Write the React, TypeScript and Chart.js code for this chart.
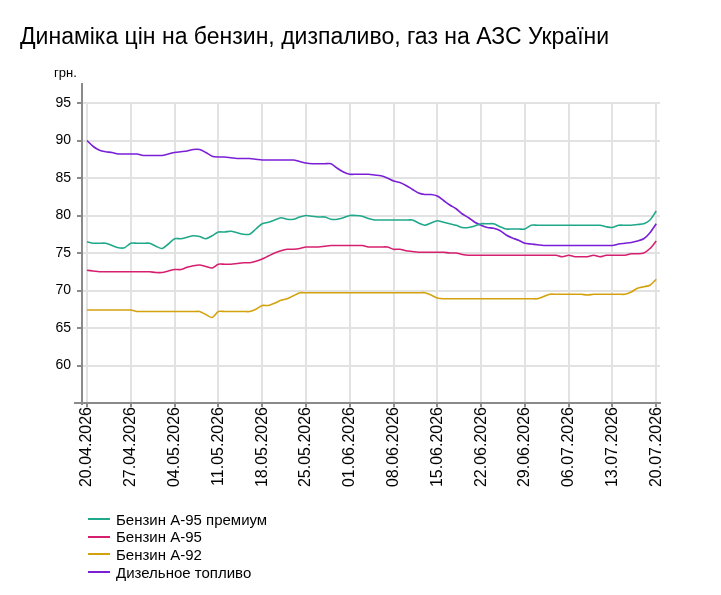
import React, { useEffect, useRef } from "react";
import { Chart, registerables } from "chart.js";

Chart.register(...registerables);

// Daily prices, 20.04.2026 .. 20.07.2026 (92 days), UAH per litre
const premium95 = [
  76.5, 76.3, 76.3, 76.3, 76.0, 75.7, 75.7, 76.3, 76.3, 76.3,
  76.3, 75.9, 75.6, 76.2, 76.9, 76.9, 77.1, 77.3, 77.2, 76.9,
  77.3, 77.8, 77.8, 77.9, 77.7, 77.5, 77.5, 78.2, 78.9, 79.1,
  79.4, 79.7, 79.5, 79.5, 79.8, 80.0, 79.9, 79.8, 79.8, 79.5,
  79.5, 79.7, 80.0, 80.0, 79.9, 79.6, 79.4, 79.4, 79.4, 79.4,
  79.4, 79.4, 79.4, 79.0, 78.7, 79.0, 79.3, 79.1, 78.9, 78.7,
  78.4, 78.4, 78.6, 78.9, 78.9, 78.9, 78.5, 78.2, 78.2, 78.2,
  78.2, 78.7, 78.7, 78.7, 78.7, 78.7, 78.7, 78.7, 78.7, 78.7,
  78.7, 78.7, 78.7, 78.5, 78.4, 78.7, 78.7, 78.7, 78.8, 78.9,
  79.4, 80.6,
];

const regular95 = [
  72.7, 72.6, 72.5, 72.5, 72.5, 72.5, 72.5, 72.5, 72.5, 72.5,
  72.5, 72.4, 72.4, 72.6, 72.8, 72.8, 73.1, 73.3, 73.4, 73.2,
  73.0, 73.5, 73.5, 73.5, 73.6, 73.7, 73.7, 73.9, 74.2, 74.6,
  75.0, 75.3, 75.5, 75.5, 75.6, 75.8, 75.8, 75.8, 75.9, 76.0,
  76.0, 76.0, 76.0, 76.0, 76.0, 75.8, 75.8, 75.8, 75.8, 75.5,
  75.5, 75.3, 75.2, 75.1, 75.1, 75.1, 75.1, 75.1, 75.0, 75.0,
  74.8, 74.7, 74.7, 74.7, 74.7, 74.7, 74.7, 74.7, 74.7, 74.7,
  74.7, 74.7, 74.7, 74.7, 74.7, 74.7, 74.5, 74.7, 74.5, 74.5,
  74.5, 74.7, 74.5, 74.7, 74.7, 74.7, 74.7, 74.9, 74.9, 75.0,
  75.6, 76.6,
];

const regular92 = [
  67.4, 67.4, 67.4, 67.4, 67.4, 67.4, 67.4, 67.4, 67.2, 67.2,
  67.2, 67.2, 67.2, 67.2, 67.2, 67.2, 67.2, 67.2, 67.2, 66.8,
  66.4, 67.2, 67.2, 67.2, 67.2, 67.2, 67.2, 67.5, 68.0, 68.0,
  68.3, 68.7, 68.9, 69.3, 69.7, 69.7, 69.7, 69.7, 69.7, 69.7,
  69.7, 69.7, 69.7, 69.7, 69.7, 69.7, 69.7, 69.7, 69.7, 69.7,
  69.7, 69.7, 69.7, 69.7, 69.7, 69.4, 69.0, 68.9, 68.9, 68.9,
  68.9, 68.9, 68.9, 68.9, 68.9, 68.9, 68.9, 68.9, 68.9, 68.9,
  68.9, 68.9, 68.9, 69.2, 69.5, 69.5, 69.5, 69.5, 69.5, 69.5,
  69.4, 69.5, 69.5, 69.5, 69.5, 69.5, 69.5, 69.8, 70.3, 70.5,
  70.7, 71.5,
];

const dieselFuel = [
  90.0, 89.2, 88.7, 88.5, 88.4, 88.2, 88.2, 88.2, 88.2, 88.0,
  88.0, 88.0, 88.0, 88.2, 88.4, 88.5, 88.6, 88.8, 88.8, 88.4,
  87.9, 87.8, 87.8, 87.7, 87.6, 87.6, 87.6, 87.5, 87.4, 87.4,
  87.4, 87.4, 87.4, 87.4, 87.2, 87.0, 86.9, 86.9, 86.9, 86.9,
  86.3, 85.8, 85.5, 85.5, 85.5, 85.5, 85.4, 85.3, 85.0, 84.6,
  84.4, 84.0, 83.5, 83.0, 82.8, 82.8, 82.6, 82.0, 81.4, 80.9,
  80.2, 79.7, 79.1, 78.7, 78.4, 78.3, 78.0, 77.4, 77.0, 76.7,
  76.3, 76.2, 76.1, 76.0, 76.0, 76.0, 76.0, 76.0, 76.0, 76.0,
  76.0, 76.0, 76.0, 76.0, 76.0, 76.2, 76.3, 76.4, 76.6, 76.9,
  77.7, 78.9,
];

// Weekly date labels on the horizontal axis (every 7th day)
const dateLabels = [
  "20.04.2026", "27.04.2026", "04.05.2026", "11.05.2026", "18.05.2026",
  "25.05.2026", "01.06.2026", "08.06.2026", "15.06.2026", "22.06.2026",
  "29.06.2026", "06.07.2026", "13.07.2026", "20.07.2026",
];
const labelStep = 7;

const priceTicks = [60, 65, 70, 75, 80, 85, 90, 95];

const seriesNames = ["Бензин А-95 премиум", "Бензин А-95", "Бензин А-92", "Дизельное топливо"];
const seriesValues = [premium95, regular95, regular92, dieselFuel];
const seriesColors = ["#1fa88a", "#d6206f", "#d4a20e", "#7a1fd6"];

const FONT = "'Liberation Sans', Arial, sans-serif";
const AXIS_GRAY = "#8a8a8a";
const GRID_GRAY = "#e2e2e2";

// Draws the unit caption and the longer axis lines around the plot
const axisExtras = {
  id: "axisExtras",
  afterDraw(chart: any) {
    const { ctx, chartArea } = chart;
    ctx.save();
    ctx.strokeStyle = AXIS_GRAY;
    ctx.lineWidth = 2;
    ctx.beginPath();
    ctx.moveTo(chartArea.left, chartArea.top - 20);
    ctx.lineTo(chartArea.left, chartArea.bottom + 2);
    ctx.moveTo(chartArea.left - 8, chartArea.bottom);
    ctx.lineTo(chartArea.right, chartArea.bottom);
    ctx.stroke();
    ctx.fillStyle = "#000";
    ctx.font = `13px ${FONT}`;
    ctx.textBaseline = "alphabetic";
    ctx.textAlign = "left";
    ctx.fillText("грн.", 54, 77);
    ctx.restore();
  },
};

function PriceChart() {
  const ref = useRef<HTMLCanvasElement | null>(null);

  useEffect(() => {
    if (!ref.current) return;
    const chart = new Chart(ref.current, {
      type: "line",
      data: {
        datasets: seriesNames.map((name, k) => ({
          label: name,
          data: seriesValues[k].map((v, i) => ({ x: i, y: v })),
          borderColor: seriesColors[k],
          backgroundColor: seriesColors[k],
          borderWidth: 1.6,
          pointRadius: 0,
          tension: 0.25,
          fill: false,
        })),
      },
      options: {
        animation: false,
        responsive: false,
        maintainAspectRatio: false,
        layout: { padding: { left: 0, top: 103, right: 61, bottom: 0 } },
        plugins: {
          legend: { display: false },
          title: { display: false },
          tooltip: { enabled: false },
        },
        scales: {
          x: {
            type: "linear",
            min: -0.8,
            max: 91.6,
            afterBuildTicks: (scale: any) => {
              scale.ticks = dateLabels.map((_, k) => ({ value: k * labelStep }));
            },
            afterFit: (scale: any) => {
              scale.height = 192;
            },
            ticks: {
              autoSkip: false,
              maxRotation: 90,
              minRotation: 90,
              padding: 0,
              color: "#000",
              font: { family: FONT, size: 16 },
              callback: (v: any) => dateLabels[Math.round(Number(v) / labelStep)] ?? "",
            },
            grid: { color: GRID_GRAY, lineWidth: 2, tickLength: 4, tickColor: AXIS_GRAY },
            border: { color: AXIS_GRAY, width: 2 },
          },
          y: {
            min: 55,
            max: 95,
            afterBuildTicks: (scale: any) => {
              scale.ticks = priceTicks.map((v) => ({ value: v }));
            },
            afterFit: (scale: any) => {
              scale.width = 82;
            },
            ticks: {
              padding: 6,
              color: "#000",
              font: { family: FONT, size: 14 },
            },
            grid: { color: GRID_GRAY, lineWidth: 2, tickLength: 5, tickColor: AXIS_GRAY },
            border: { color: AXIS_GRAY, width: 2 },
          },
        },
      },
      plugins: [axisExtras],
    });
    return () => chart.destroy();
  }, []);

  return <canvas ref={ref} width={721} height={595} style={{ position: "absolute", left: 0, top: 0 }} />;
}

export default function App() {
  return (
    <div style={{ position: "absolute", left: 0, top: 0, width: 721, height: 595, background: "#fff", fontFamily: FONT }}>
      <PriceChart />
      <div style={{ position: "absolute", left: 20, top: 25, fontSize: 23, lineHeight: "23px", color: "#000", whiteSpace: "nowrap" }}>
        Динаміка цін на бензин, дизпаливо, газ на АЗС України
      </div>
      {seriesNames.map((name, k) => (
        <div key={name} style={{ position: "absolute", left: 88, top: 510 + k * 17.7, height: 18, display: "flex", alignItems: "center", fontSize: 15, color: "#000", whiteSpace: "nowrap" }}>
          <span style={{ display: "inline-block", width: 22, height: 2, background: seriesColors[k], marginRight: 6 }} />
          {name}
        </div>
      ))}
    </div>
  );
}
